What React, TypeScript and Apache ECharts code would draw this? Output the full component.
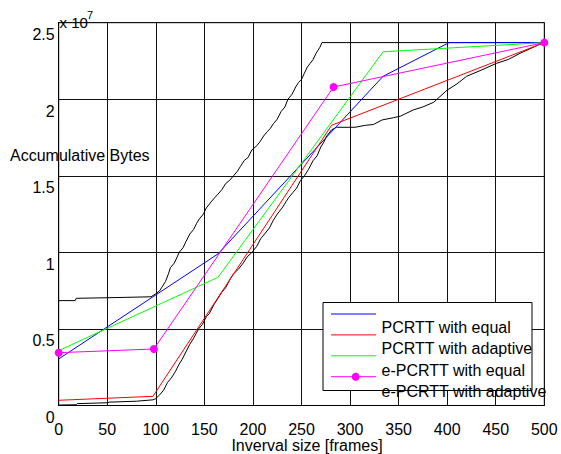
import React, { useEffect, useRef } from "react";
import * as echarts from "echarts";

// x: interval size [frames], y: accumulative bytes (x 10^7)
const xTickMin = 0;
const xTickMax = 500;
const xTickStep = 50;
const yTickMin = 0;
const yTickMax = 2.5;
const yTickStep = 0.5;

const upperEnvelopeX = [0, 17, 18, 60, 95, 100, 104, 106, 110, 113, 115, 119, 122, 124, 128, 131, 135, 139, 142, 145, 149, 152, 157, 161, 164, 168, 172, 176, 180, 184, 187, 191, 195, 199, 203, 207, 211, 215, 218, 221, 225, 229, 233, 236, 240, 244, 247, 250, 253, 256, 259, 262, 265, 267, 269, 271, 500];
const upperEnvelopeY = [0.685, 0.685, 0.7, 0.705, 0.71, 0.73, 0.75, 0.77, 0.81, 0.86, 0.9, 0.93, 0.97, 1.0, 1.03, 1.07, 1.12, 1.15, 1.19, 1.22, 1.25, 1.29, 1.33, 1.36, 1.38, 1.41, 1.45, 1.47, 1.5, 1.53, 1.56, 1.6, 1.62, 1.67, 1.69, 1.72, 1.76, 1.79, 1.81, 1.84, 1.87, 1.92, 1.95, 2.0, 2.03, 2.08, 2.11, 2.13, 2.17, 2.21, 2.235, 2.26, 2.3, 2.32, 2.34, 2.37, 2.37];

const lowerEnvelopeX = [0, 18, 19, 50, 52, 80, 97, 100, 104, 108, 112, 116, 120, 124, 127, 131, 135, 139, 144, 148, 152, 155, 160, 164, 168, 172, 176, 180, 185, 190, 194, 199, 204, 208, 212, 217, 221, 225, 230, 234, 237, 241, 245, 249, 253, 257, 262, 266, 270, 273, 276, 281, 286, 305, 316, 324, 333, 345, 352, 365, 375, 386, 400, 410, 420, 435, 451, 463, 475, 494, 500];
const lowerEnvelopeY = [0.003, 0.005, 0.012, 0.018, 0.022, 0.028, 0.037, 0.045, 0.07, 0.1, 0.15, 0.18, 0.22, 0.27, 0.3, 0.35, 0.4, 0.44, 0.5, 0.53, 0.58, 0.6, 0.66, 0.7, 0.74, 0.77, 0.82, 0.86, 0.89, 0.93, 0.97, 1.0, 1.04, 1.09, 1.12, 1.16, 1.21, 1.25, 1.29, 1.33, 1.36, 1.39, 1.42, 1.47, 1.5, 1.54, 1.6, 1.63, 1.69, 1.72, 1.76, 1.8, 1.817, 1.817, 1.83, 1.835, 1.865, 1.88, 1.89, 1.93, 1.95, 1.98, 2.06, 2.1, 2.15, 2.19, 2.235, 2.26, 2.3, 2.355, 2.37];

const blueX = [0, 164, 334, 402, 500];
const blueY = [0.304, 0.99, 2.15, 2.37, 2.37];

const redX = [0, 97, 281, 500];
const redY = [0.034, 0.06, 1.83, 2.37];

const greenX = [0, 164, 334, 500];
const greenY = [0.358, 0.837, 2.31, 2.37];

const magentaX = [0, 98, 283, 500];
const magentaY = [0.345, 0.369, 2.08, 2.37];

const legendLineColors = ["#0000ff", "#ff0000", "#00ff00", "#ff00ff"];
const legendLabels = ["PCRTT with equal", "PCRTT with adaptive", "e-PCRTT with equal", "e-PCRTT with adaptive"];

const yAxisTitle = "Accumulative Bytes";
const xAxisTitle = "Inverval size [frames]";

const FONT = "'Liberation Sans', Arial, Helvetica, sans-serif";

const zip = (xs: number[], ys: number[]) => xs.map((x, i) => [x, ys[i]]);

export default function App() {
  const ref = useRef<HTMLDivElement>(null);
  useEffect(() => {
    if (!ref.current) return;
    const chart = echarts.init(ref.current, null, { renderer: "svg" });

    const legendGraphics: any[] = [
      {
        type: "rect",
        z: 100,
        shape: { x: 323, y: 302.5, width: 209, height: 88 },
        style: { fill: "#fff", stroke: "#000", lineWidth: 1 },
      },
    ];
    legendLineColors.forEach((c, i) => {
      const y = 314 + 20.9 * i;
      legendGraphics.push({
        type: "line",
        z: 101,
        shape: { x1: 331, y1: y, x2: 376, y2: y },
        style: { stroke: c, lineWidth: 1 },
      });
      if (i === 3) {
        legendGraphics.push({
          type: "circle",
          z: 102,
          shape: { cx: 355.7, cy: y, r: 4 },
          style: { fill: c },
        });
      }
    });
    legendLabels.forEach((t, i) => {
      legendGraphics.push({
        type: "text",
        z: 103,
        x: 381.5,
        y: 327.3 + 21.4 * i,
        style: {
          text: t,
          font: `16px ${FONT}`,
          fill: "#000",
          verticalAlign: "middle",
          align: "left",
        },
      });
    });

    chart.setOption({
      animation: false,
      backgroundColor: "#fff",
      grid: {
        left: 58.7,
        right: 16.7,
        top: 22.7,
        bottom: 48.5,
        show: true,
        borderColor: "#000",
        borderWidth: 1,
        backgroundColor: "#fff",
        containLabel: false,
        outerBoundsMode: "none",
      },
      xAxis: {
        type: "value",
        min: xTickMin,
        max: xTickMax,
        interval: xTickStep,
        axisLine: { show: true, lineStyle: { color: "#000", width: 1 } },
        axisTick: { show: false },
        splitLine: { show: true, lineStyle: { color: "#111", width: 1 } },
        axisLabel: {
          color: "#000",
          fontFamily: FONT,
          fontSize: 16,
          margin: 16,
          verticalAlign: "top",
          showMinLabel: true,
          showMaxLabel: true,
        },
      },
      yAxis: {
        type: "value",
        min: yTickMin,
        max: yTickMax,
        interval: yTickStep,
        axisLine: { show: true, lineStyle: { color: "#000", width: 1 } },
        axisTick: { show: false },
        splitLine: { show: true, lineStyle: { color: "#111", width: 1 } },
        axisLabel: {
          color: "#000",
          fontFamily: FONT,
          fontSize: 16,
          margin: 4,
          verticalAlign: "top",
          padding: [4, 0, 0, 0],
          showMinLabel: true,
          showMaxLabel: true,
        },
      },
      series: [
        {
          type: "line",
          data: zip(upperEnvelopeX, upperEnvelopeY),
          showSymbol: false,
          lineStyle: { color: "#000", width: 1 },
          itemStyle: { color: "#000" },
          z: 2,
        },
        {
          type: "line",
          data: zip(lowerEnvelopeX, lowerEnvelopeY),
          showSymbol: false,
          lineStyle: { color: "#000", width: 1 },
          itemStyle: { color: "#000" },
          z: 2,
        },
        {
          type: "line",
          data: zip(blueX, blueY),
          showSymbol: false,
          lineStyle: { color: "#0000ff", width: 1 },
          itemStyle: { color: "#0000ff" },
          z: 3,
        },
        {
          type: "line",
          data: zip(redX, redY),
          showSymbol: false,
          lineStyle: { color: "#ff0000", width: 1 },
          itemStyle: { color: "#ff0000" },
          z: 3,
        },
        {
          type: "line",
          data: zip(greenX, greenY),
          showSymbol: false,
          lineStyle: { color: "#00ff00", width: 1 },
          itemStyle: { color: "#00ff00" },
          z: 3,
        },
        {
          type: "line",
          data: zip(magentaX, magentaY),
          showSymbol: true,
          symbol: "circle",
          symbolSize: 8,
          lineStyle: { color: "#ff00ff", width: 1 },
          itemStyle: { color: "#ff00ff" },
          z: 4,
        },
      ],
      graphic: [
        {
          type: "text",
          z: 100,
          x: 10,
          y: 155,
          style: {
            text: yAxisTitle,
            font: `16px ${FONT}`,
            fill: "#000",
            verticalAlign: "middle",
            align: "left",
          },
        },
        {
          type: "text",
          z: 100,
          x: 307,
          y: 445.5,
          style: {
            text: xAxisTitle,
            font: `16px ${FONT}`,
            fill: "#000",
            verticalAlign: "middle",
            align: "center",
          },
        },
        {
          type: "text",
          z: 100,
          x: 59.5,
          y: 22.7,
          style: {
            text: "x 10",
            font: `15px ${FONT}`,
            fill: "#000",
            verticalAlign: "middle",
            align: "left",
          },
        },
        {
          type: "text",
          z: 100,
          x: 87,
          y: 15,
          style: {
            text: "7",
            font: `11px ${FONT}`,
            fill: "#000",
            verticalAlign: "middle",
            align: "left",
          },
        },
        ...legendGraphics,
      ],
    });
    return () => chart.dispose();
  }, []);
  return (
    <div
      ref={ref}
      style={{ position: "fixed", left: 0, top: 0, width: 561, height: 454 }}
    />
  );
}
